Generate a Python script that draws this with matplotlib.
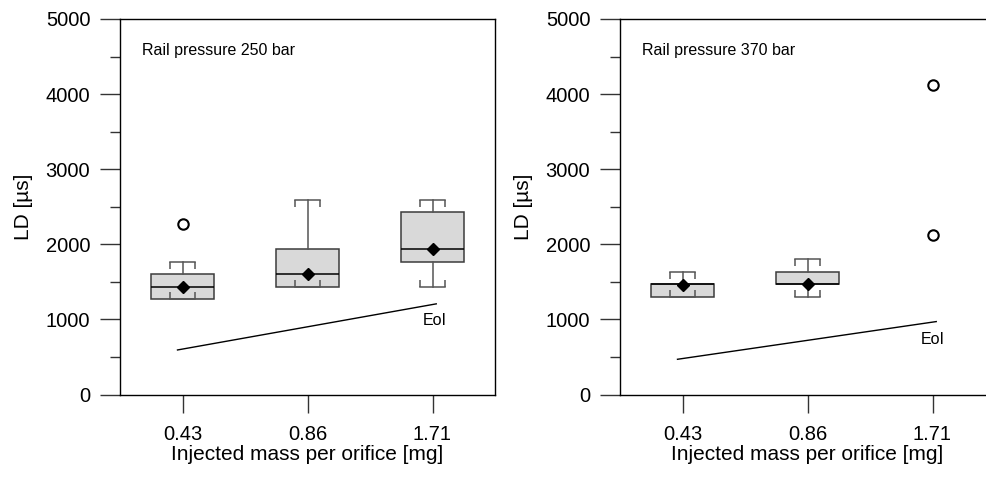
import matplotlib
matplotlib.use("Agg")
import matplotlib.pyplot as plt
from matplotlib.ticker import MultipleLocator, FixedLocator

plt.rcParams["font.family"] = ["Liberation Sans", "DejaVu Sans"]

# Injected mass per orifice (category labels)
masses = ["0.43", "0.86", "1.71"]
positions = [1, 2, 3]

# Rail pressure 250 bar: box statistics per mass [µs]
p250_whislo = [1273, 1433, 1433]
p250_q1 = [1273, 1433, 1763]
p250_med = [1437, 1602, 1936]
p250_q3 = [1602, 1936, 2433]
p250_whishi = [1763, 2593, 2593]
p250_mean = [1437, 1602, 1936]
p250_fliers = [[2267], [], []]

# Rail pressure 370 bar: box statistics for the first two masses [µs]
p370_whislo = [1300, 1300]
p370_q1 = [1300, 1469]
p370_med = [1469, 1469]
p370_q3 = [1469, 1629]
p370_whishi = [1629, 1802]
p370_mean = [1460, 1469]
p370_fliers = [[], [], [2127, 4117]]

# End-of-injection reference line (x extent and LD values)
eoi_x = [0.96, 3.03]
eoi_250 = [593, 1207]
eoi_370 = [469, 971]
eoi_label_250 = (3.02, 980)
eoi_label_370 = (3.00, 736)

titles = ["Rail pressure 250 bar", "Rail pressure 370 bar"]

BOX_EDGE = "#3c3c3c"
WHISK = "#555555"
FILL = "#d9d9d9"
CAP_HALF = 0.1
CAP_TICK = 95  # bracket end length in µs
LW = 1.1


def draw_panel(ax, whislo, q1, med, q3, whishi, mean, fliers, eoi, eoi_lbl, title):
    n = len(whislo)
    stats = []
    for i in range(n):
        stats.append(dict(whislo=whislo[i], q1=q1[i], med=med[i], q3=q3[i],
                          whishi=whishi[i], mean=mean[i], fliers=[]))
    ax.bxp(stats, positions=positions[:n], widths=0.5, patch_artist=True,
           showmeans=True, showfliers=False, capwidths=2 * CAP_HALF,
           boxprops=dict(facecolor=FILL, edgecolor=BOX_EDGE, linewidth=LW),
           whiskerprops=dict(color=WHISK, linewidth=LW),
           capprops=dict(color=WHISK, linewidth=LW),
           medianprops=dict(color="black", linewidth=LW),
           meanprops=dict(marker="D", markerfacecolor="black",
                          markeredgecolor="black", markersize=6.3))
    # bracket ends on the whisker caps
    for i in range(n):
        x = positions[i]
        for dx in (-CAP_HALF, CAP_HALF):
            ax.plot([x + dx, x + dx], [whishi[i], whishi[i] - CAP_TICK],
                    color=WHISK, lw=LW, zorder=3, solid_capstyle="butt")
            ax.plot([x + dx, x + dx], [whislo[i], whislo[i] + CAP_TICK],
                    color=WHISK, lw=LW, zorder=3, solid_capstyle="butt")
    # outliers
    for i, fl in enumerate(fliers):
        if fl:
            ax.plot([positions[i]] * len(fl), fl, linestyle="none", marker="o",
                    markerfacecolor="white", markeredgecolor="black",
                    markeredgewidth=1.5, markersize=7.5, zorder=4)
    ax.plot(eoi_x, eoi, color="black", lw=1.0)
    ax.text(eoi_lbl[0], eoi_lbl[1], "EoI", fontsize=11.5, ha="center", va="center")
    ax.text(0.058, 0.917, title, transform=ax.transAxes, fontsize=11.5,
            ha="left", va="center")

    ax.set_xlim(0.5, 3.5)
    ax.set_ylim(0, 5000)
    ax.xaxis.set_major_locator(FixedLocator(positions))
    ax.set_xticklabels(masses)
    ax.yaxis.set_major_locator(MultipleLocator(1000))
    ax.yaxis.set_minor_locator(MultipleLocator(500))
    ax.tick_params(axis="both", which="major", labelsize=14.5, color="#333333",
                   width=1.0, direction="out")
    ax.tick_params(axis="y", which="major", length=14.4, pad=7)
    ax.tick_params(axis="y", which="minor", length=7.2, width=1.0, color="#333333")
    ax.tick_params(axis="x", which="major", length=13, pad=9)
    ax.set_xlabel("Injected mass per orifice [mg]", fontsize=15, labelpad=0.5)
    ax.set_ylabel("LD [µs]", fontsize=15, labelpad=9)
    for sp in ax.spines.values():
        sp.set_linewidth(1.0)
        sp.set_color("black")


fig = plt.figure(figsize=(9.87, 4.78), dpi=100)
W, H = 987.0, 478.0
ax1 = fig.add_axes([120 / W, (H - 394.5) / H, 375 / W, 375.5 / H])
ax2 = fig.add_axes([620 / W, (H - 394.5) / H, 375 / W, 375.5 / H])

draw_panel(ax1, p250_whislo, p250_q1, p250_med, p250_q3, p250_whishi, p250_mean,
           p250_fliers, eoi_250, eoi_label_250, titles[0])
draw_panel(ax2, p370_whislo, p370_q1, p370_med, p370_q3, p370_whishi, p370_mean,
           p370_fliers, eoi_370, eoi_label_370, titles[1])

fig.savefig("out.png", dpi=100)
